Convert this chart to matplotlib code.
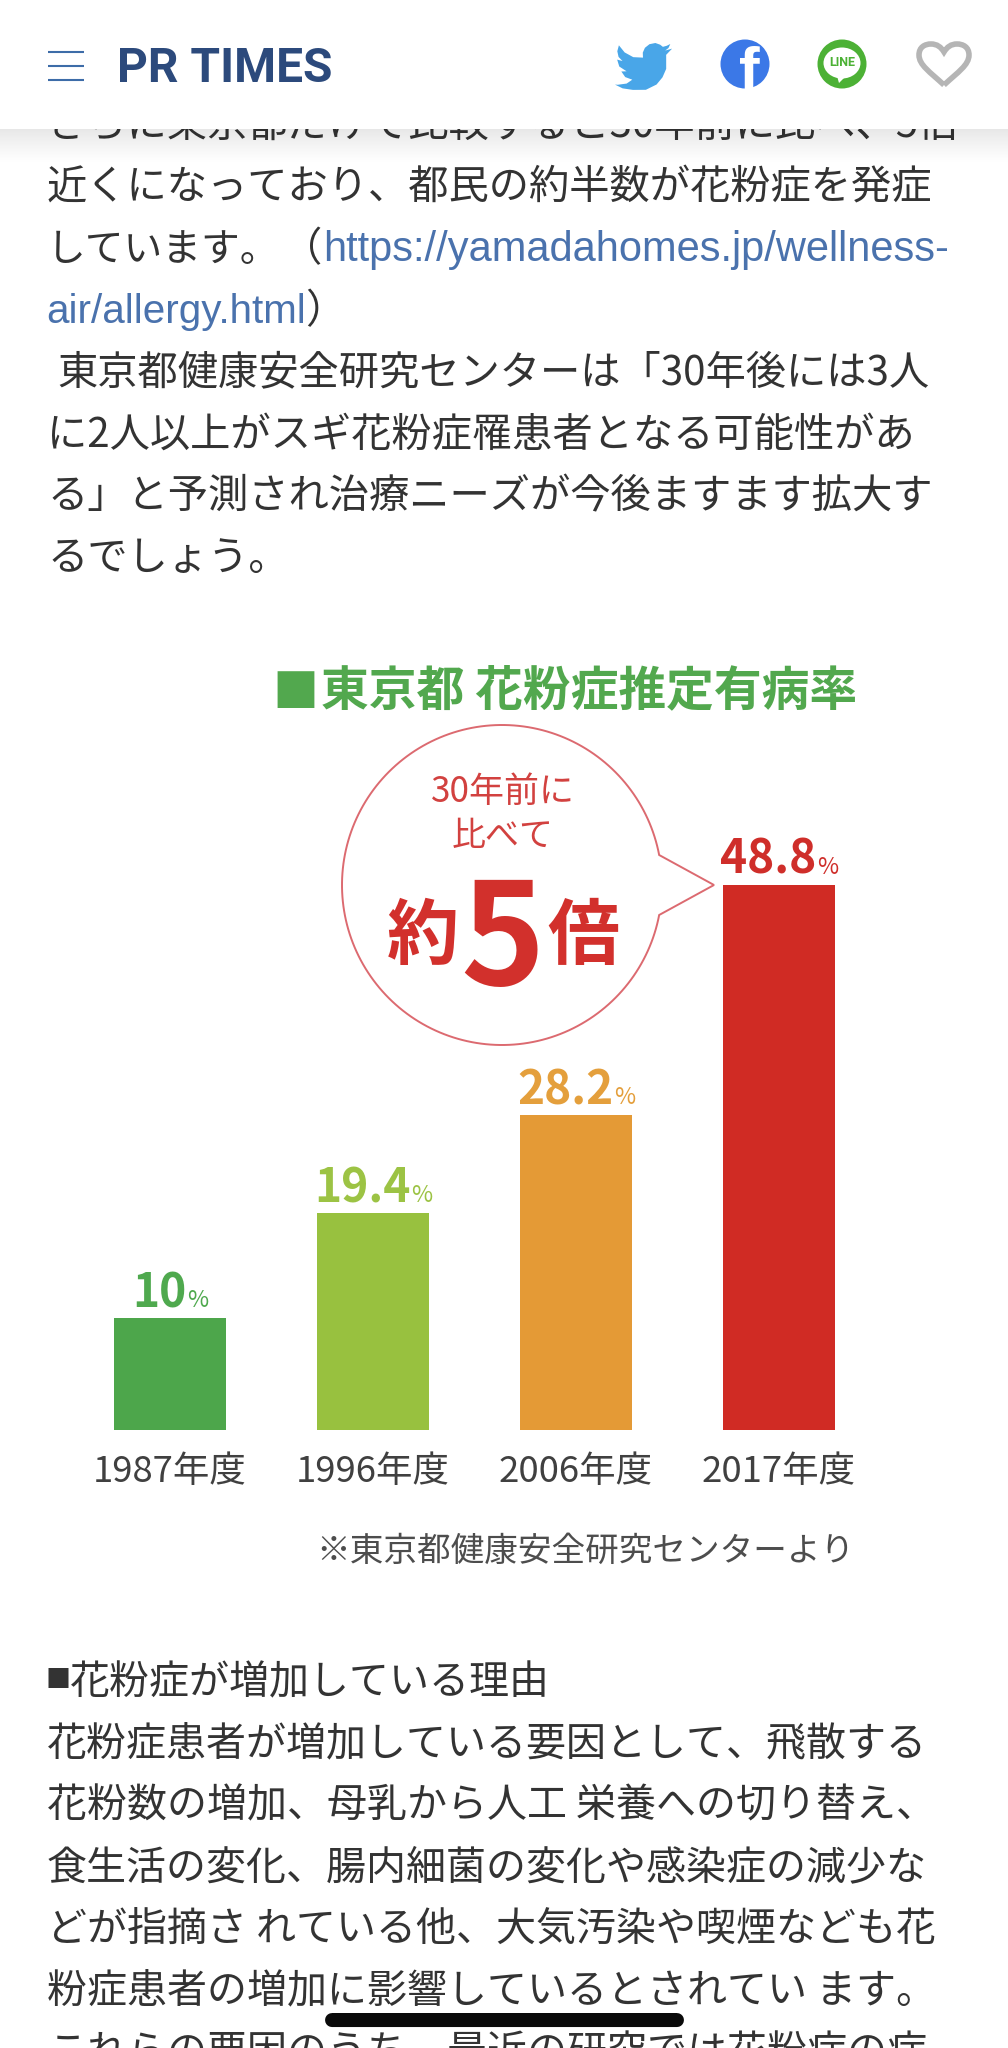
import numpy as np
import matplotlib
matplotlib.use("Agg")
import matplotlib.pyplot as plt
from matplotlib.patches import Circle, Ellipse, PathPatch, Polygon, Rectangle, FancyBboxPatch
from matplotlib.path import Path

plt.rcParams["font.family"] = ["Noto Sans CJK JP", "DejaVu Sans"]

W, H = 1008, 2048

# chart data
years = ["1987年度", "1996年度", "2006年度", "2017年度"]
rates = [10, 19.4, 28.2, 48.8]
rate_labels = ["10", "19.4", "28.2", "48.8"]
bar_colors = ["#4da64b", "#98c13f", "#e49a36", "#d02b24"]
label_colors = ["#4fa94e", "#9cc344", "#e49f3c", "#cf2e2a"]

chart_title = "東京都 花粉症推定有病率"
source_note = "※東京都健康安全研究センターより"

# page text
upper_lines = [
    "さらに東京都だけで比較すると30年前に比べ、5倍",
    "近くになっており、都民の約半数が花粉症を発症",
    None,
    None,
    "東京都健康安全研究センターは「30年後には3人",
    "に2人以上がスギ花粉症罹患者となる可能性があ",
    "る」と予測され治療ニーズが今後ますます拡大す",
    "るでしょう。",
]
link_lead = "しています。"
lower_lines = [
    "花粉症が増加している理由",
    "花粉症患者が増加している要因として、飛散する",
    "花粉数の増加、母乳から人工 栄養への切り替え、",
    "食生活の変化、腸内細菌の変化や感染症の減少な",
    "どが指摘さ れている他、大気汚染や喫煙なども花",
    "粉症患者の増加に影響しているとされてい ます。",
    "これらの要因のうち、最近の研究では花粉症の症",
]
link_parts = ["https://yamadahomes.jp/wellness-", "air/allergy.html"]


def px(size):
    # font size in pixels to points at dpi 100
    return size * 0.72


fig = plt.figure(figsize=(W / 100, H / 100), dpi=100, facecolor="white")
page = fig.add_axes([0, 0, 1, 1])
page.set_xlim(0, W)
page.set_ylim(H, 0)
page.axis("off")

# running text
TEXT = "#333333"
LINK = "#4a72ad"
BODY = px(40.3)


def body(x, y, s, color=TEXT, family=None, size=BODY):
    kw = {"family": family} if family else {}
    page.text(x, y + 15, s, fontsize=size, color=color, va="baseline", ha="left", **kw)


for i, line in enumerate(upper_lines):
    if line is None:
        continue
    x = 57 if line.startswith("東京都健康") else 47
    body(x, 122 + i * 61.9, line)
body(47, 246, link_lead, size=px(38.8))
body(282, 246, "（")
body(323, 246, link_parts[0], LINK, "Liberation Sans", px(41.6))
body(46, 308, link_parts[1], LINK, "Liberation Sans", px(40.4))
body(305, 308, "）")

page.text(46, 1687, "■", fontsize=px(25), color=TEXT, va="baseline")
body(70, 1679, lower_lines[0], size=px(40))
for i, line in enumerate(lower_lines[1:]):
    body(47, 1740.7 + i * 61.7, line, size=px(40))

# chart title and balloon
page.text(272, 707, "■", fontsize=px(46), color="#52a84e", va="baseline", ha="left")
page.text(321, 705, chart_title, fontsize=px(47.8), color="#52a84e", va="baseline",
          ha="left", fontweight="bold")

cx, cy, r = 502, 885, 160
gap = np.arcsin(30 / r)
theta = np.linspace(gap, 2 * np.pi - gap, 200)
outline = np.column_stack([cx + r * np.cos(theta), cy + r * np.sin(theta)])
outline = np.vstack([outline, [714, 885]])
page.add_patch(Polygon(outline, closed=True, facecolor="white", edgecolor="#dc6a70", linewidth=1.4))

RED = "#d2302c"
page.text(503, 792, "30年前に", fontsize=px(35), color="#d2413f", ha="center", va="center")
page.text(503, 837, "比べて", fontsize=px(34), color="#d2413f", ha="center", va="center")
page.text(423, 938, "約", fontsize=px(72), color=RED, ha="center", va="center", fontweight="bold")
page.text(502, 985, "5", fontsize=px(143), color=RED, ha="center", va="baseline", fontweight="bold")
page.text(583, 938, "倍", fontsize=px(72), color=RED, ha="center", va="center", fontweight="bold")

page.text(585, 1561, source_note, fontsize=px(33.6), color="#4d4d4d", ha="center", va="baseline")

# bar chart, y=0 at the baseline pixel and 48.8 at the top of the tallest bar
bar_bottom, bar_top = 1430, 885
chart = fig.add_axes([68.5 / W, 1 - bar_bottom / H, 812 / W, (bar_bottom - bar_top) / H])
chart.patch.set_alpha(0)
pos = np.arange(len(years))
chart.bar(pos, rates, width=0.55, color=bar_colors)
chart.set_xlim(-0.5, 3.5)
chart.set_ylim(0, max(rates))
chart.set_yticks([])
chart.set_xticks(pos, labels=years)
chart.tick_params(axis="x", length=0, pad=px(24), labelsize=px(36.5), labelcolor="#404040")
for side in chart.spines.values():
    side.set_visible(False)

LABEL_GAP = px(11)
renderer = fig.canvas.get_renderer()
for i, (val, lab, col) in enumerate(zip(rates, rate_labels, label_colors)):
    num = chart.annotate(lab, xy=(i, val), xytext=(0, LABEL_GAP), textcoords="offset points",
                         fontsize=px(46), color=col, fontweight="bold", ha="right", va="baseline")
    pct = chart.annotate("%", xy=(i, val), xytext=(0, LABEL_GAP), textcoords="offset points",
                         fontsize=px(23), color=col, ha="left", va="baseline")
    w_num = num.get_window_extent(renderer).width
    w_pct = pct.get_window_extent(renderer).width
    shift = (w_num - w_pct) / 2
    num.xyann = (px(shift), LABEL_GAP)
    pct.xyann = (px(shift + 1), LABEL_GAP)

# header bar with its shadow
shadow = np.zeros((36, 1, 4))
shadow[:, 0, 3] = np.linspace(0.14, 0, 36) ** 1.2
page.imshow(shadow, extent=(0, W, 165, 129), aspect="auto", zorder=4, interpolation="bilinear")
page.set_xlim(0, W)
page.set_ylim(H, 0)
page.add_patch(Rectangle((0, 0), W, 129, facecolor="white", edgecolor="none", zorder=5))

for y in (52, 66, 80):
    page.plot([48, 84], [y, y], color="#3d6ca8", lw=1.5, zorder=6, solid_capstyle="butt")
page.text(117, 82, "PR TIMES", family="Roboto", fontweight="bold", fontsize=px(48),
          color="#2c4a7c", va="baseline", ha="left", zorder=6)

bird = np.array([
    (23.95, 4.57), (21.13, 5.35), (22.5, 4.3), (23.29, 2.62), (21.8, 3.35), (20.16, 3.8),
    (19, 2.9), (17, 2.2), (14.5, 2.7), (12.6, 4.2), (11.7, 6.2), (11.78, 8.29),
    (7.69, 8.1), (4.07, 6.13), (1.64, 3.16), (0.97, 5.64), (1.5, 8), (3.16, 9.73),
    (0.93, 9.12), (0.93, 9.18), (1.8, 12), (4.88, 13.99), (2.67, 14.07), (4.3, 16.4),
    (7.27, 17.49), (4.9, 19.1), (1.17, 19.6), (0, 19.53), (3.2, 21.1), (7.56, 21.74),
    (13, 21.7), (17.5, 19.5), (20, 16.5), (21.55, 13), (21.55, 7.76), (21.54, 7.13), (24, 4.59),
])
bird_xy = np.column_stack([615 + bird[:, 0] * 2.375, 43 + (bird[:, 1] - 2.2) * 2.4])
page.add_patch(Polygon(bird_xy, closed=True, facecolor="#49a6e8", edgecolor="none", zorder=6))

fb = Circle((745, 64), 24.5, facecolor="#3b78e7", edgecolor="none", zorder=6)
page.add_patch(fb)
f = page.text(749, 90, "f", family="Liberation Sans", fontweight="bold", fontsize=px(62),
              color="white", ha="center", va="baseline", zorder=7)
f.set_clip_path(fb)

page.add_patch(Circle((842, 64), 24.5, facecolor="#4cb135", edgecolor="none", zorder=6))
page.add_patch(Ellipse((842, 63), 37, 31, facecolor="white", edgecolor="none", zorder=7))
page.add_patch(Polygon([(837, 76), (845, 77), (839, 83)], closed=True, facecolor="white", edgecolor="none", zorder=7))
page.text(842, 63, "LINE", family="Roboto", fontweight="bold", fontsize=px(12.5), color="#4cb135",
          ha="center", va="center", zorder=8)

heart = Path(
    [(944, 85), (930, 72), (919, 65), (919, 55), (919, 47), (925, 44), (931, 44),
     (937, 44), (941, 47), (944, 52), (947, 47), (951, 44), (957, 44), (963, 44),
     (969, 47), (969, 55), (969, 65), (958, 72), (944, 85)],
    [Path.MOVETO] + [Path.CURVE4] * 18,
)
page.add_patch(PathPatch(heart, facecolor="none", edgecolor="#b5b5b5", lw=4, zorder=6))

# home indicator
page.add_patch(FancyBboxPatch((332, 2020), 345, 0.1, boxstyle="round,pad=0,rounding_size=0",
                              facecolor="#0a0a0a", edgecolor="#0a0a0a", lw=10, capstyle="round",
                              joinstyle="round", zorder=10))

fig.savefig("out.png", dpi=100, facecolor="white")
